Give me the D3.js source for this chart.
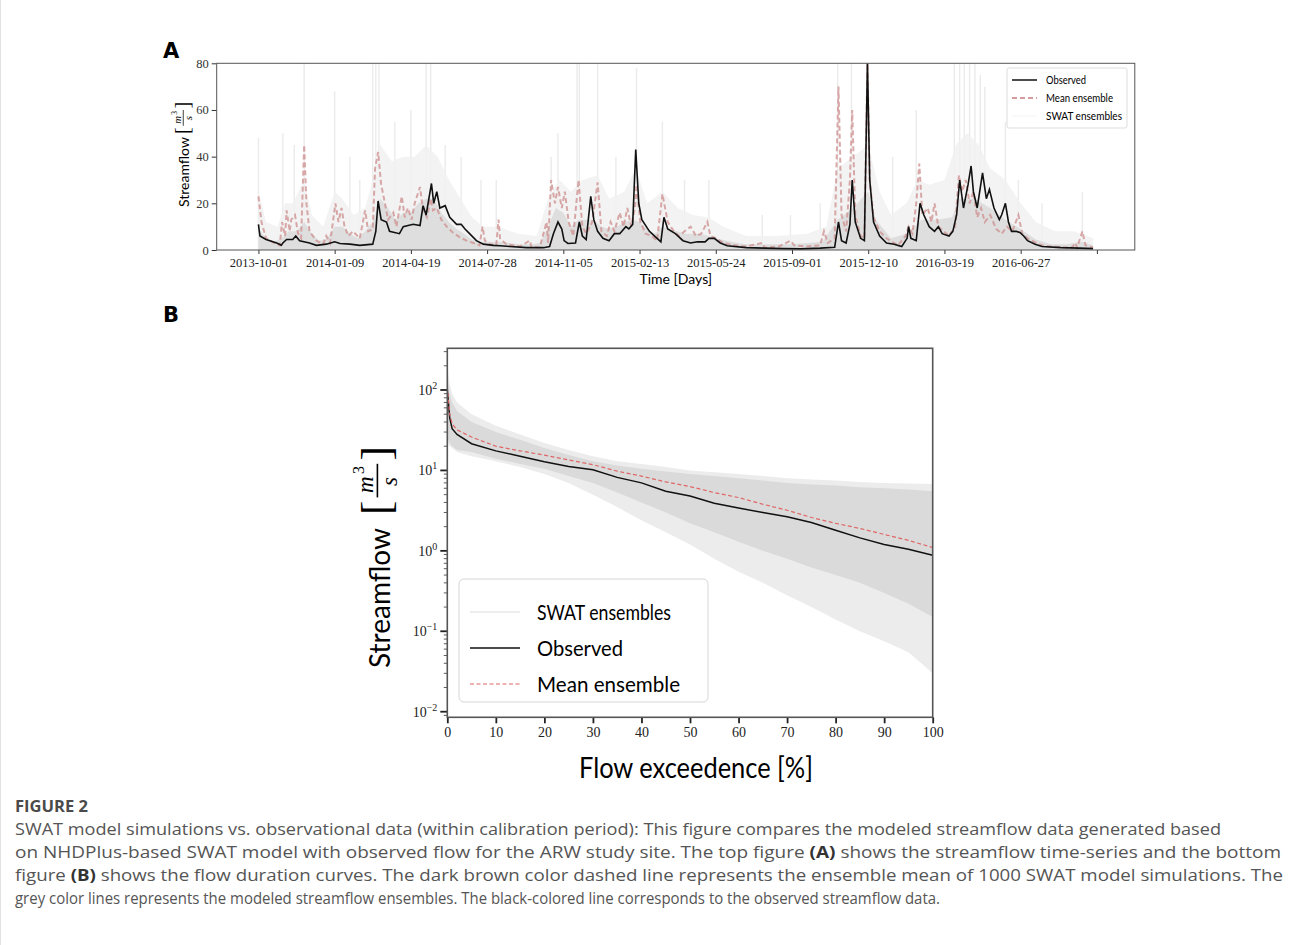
<!DOCTYPE html>
<html>
<head>
<meta charset="utf-8">
<script src="https://cdn.jsdelivr.net/npm/d3@7"></script>
<style>
  body { margin: 0; background: #fff; }
  svg { display: block; }
</style>
</head>
<body>
<div id="chart"></div>
<script>
// ---- datos panel A (serie temporal, día desde 2013-10-01, caudal m3/s) ----
const startDate = '2013-10-01';
const endDay = 1095;

const observed = [[0,11],[2,6],[10,4.5],[24,3],[30,2],[32,3],[37,4.5],[45,4.5],[49,6],[54,4],[67,3],[76,2],[89,2.5],[100,3.5],[107,2.8],[120,2.5],[133,2],[150,2.5],[154,8],[157,21],[161,13],[168,12],[172,8],[185,7],[190,10],[203,11],[212,10.5],[216,19],[220,15],[227,28.5],[230,20],[234,25],[238,18],[245,19],[251,14],[260,11],[266,11],[271,9],[277,7],[286,4],[295,2.5],[308,2],[317,1.8],[330,1.5],[352,1],[374,1],[382,1.5],[387,7],[393,12],[398,9],[401,4],[406,2.8],[416,3],[421,12],[425,6],[430,4.5],[436,23],[440,13],[445,8],[452,5],[460,4],[467,7],[474,7],[482,10],[486,9],[491,11],[495,43],[499,20],[503,13],[513,8],[523,5],[528,3.5],[532,14],[537,9],[547,7],[557,4],[567,3],[576,3.5],[586,3.5],[591,5],[598,5],[606,3],[615,1.8],[640,1],[664,0.8],[688,0.6],[712,0.5],[737,0.8],[756,1.2],[761,12],[765,4],[771,3],[776,11],[779,30],[783,12],[790,5],[795,4],[799,80],[802,30],[807,12],[815,6],[824,3],[834,2.5],[844,1.5],[851,5],[853,10],[856,5],[863,4],[868,20],[873,15],[880,10],[887,8],[892,10],[897,7],[906,6],[911,8],[916,15],[920,30],[925,18],[931,28],[935,36],[938,25],[943,18],[950,33],[955,22],[959,26],[965,18],[972,13],[975,15],[980,20],[984,12],[988,8],[994,8],[999,7.5],[1004,6],[1009,4],[1019,2.5],[1028,1.5],[1053,1],[1077,0.8],[1095,0.6]];

const meanEnsemble = [[0,23],[4,12],[10,5],[21,3],[28,2],[31,12],[35,6],[37,17],[41,8],[43,13],[48,15],[52,7],[56,5],[60,45],[63,20],[67,8],[76,4],[85,2.5],[89,6],[94,3],[101,20],[105,12],[109,18],[113,10],[118,6],[124,8],[133,5],[140,17],[144,8],[150,9],[153,35],[157,42],[161,28],[166,20],[170,13],[177,16],[181,10],[188,23],[192,14],[196,18],[201,13],[205,20],[212,27],[216,17],[221,14],[226,22],[229,17],[234,18],[240,13],[247,10],[255,7.5],[264,5.5],[273,4],[282,3],[290,2],[294,10],[297,4],[304,2.5],[312,2],[315,13],[317,5],[325,2.5],[343,1.5],[356,4],[358,1.5],[369,1],[378,12],[380,3],[384,30],[389,20],[393,27],[398,18],[402,25],[407,12],[413,6],[420,30],[425,10],[430,7],[438,12],[445,29],[450,8],[457,6],[462,12],[467,8],[474,16],[479,10],[484,18],[489,10],[494,18],[496,28],[501,12],[508,7],[516,6],[523,4],[530,24],[537,12],[545,8],[552,6],[559,8],[567,10],[574,6],[581,7],[589,12],[593,6],[601,5],[610,3],[625,2],[640,1.5],[661,3],[664,1],[683,1.5],[698,4],[703,2],[717,1.5],[737,2],[742,8],[747,3],[756,5],[761,70],[765,15],[771,8],[776,30],[779,60],[783,15],[790,6],[795,5],[799,80],[802,30],[807,14],[815,8],[824,5],[834,3],[839,2],[849,6],[853,10],[858,7],[863,20],[867,37],[871,15],[878,18],[883,12],[887,20],[892,10],[899,8],[906,6],[914,10],[919,32],[923,25],[928,30],[933,20],[938,25],[943,14],[948,18],[953,12],[960,15],[968,9],[975,7],[982,10],[989,8],[997,15],[1002,7],[1009,5],[1021,3],[1028,2],[1038,1.5],[1067,1],[1072,3],[1074,1],[1081,8],[1085,2],[1095,1]];

// ensembles SWAT: niebla media, núcleo denso y picos aislados
const ensembleHaze = [[0,25],[10,12],[25,10],[35,20],[45,20],[60,30],[70,15],[85,10],[100,25],[110,22],[125,15],[140,18],[150,30],[160,45],[175,38],[190,40],[205,40],[220,45],[235,40],[250,30],[265,22],[280,14],[295,10],[315,10],[340,7],[365,6],[380,22],[395,30],[410,25],[425,30],[445,32],[460,22],[480,25],[495,35],[510,20],[530,25],[550,18],[570,15],[590,14],[610,10],[640,6],[680,6],[720,7],[745,10],[760,35],[780,40],[800,45],[815,25],[830,15],[850,20],[865,30],[880,28],[900,30],[915,45],[930,50],[945,45],[960,35],[980,30],[1000,20],[1020,12],[1045,8],[1070,8],[1095,5]];

const ensembleCore = [[0,9],[10,5],[20,3.5],[30,5],[40,8],[50,8],[60,12],[70,7],[80,4],[90,5],[100,10],[110,10],[120,7],[130,5],[140,8],[150,12],[160,22],[170,18],[180,13],[190,16],[200,16],[210,20],[220,22],[230,22],[240,16],[250,12],[260,9],[270,7],[280,4.5],[290,3.5],[300,3.5],[320,3.5],[340,2.5],[360,2.5],[370,3],[380,10],[390,18],[400,16],[410,10],[420,13],[430,13],[440,13],[450,10],[460,9],[470,10],[480,12],[490,13],[500,12],[510,9],[520,7],[530,10],[540,9],[560,7],[580,7],[600,5],[620,3.5],[640,2.5],[660,2.5],[700,2.5],[740,3.5],[760,13],[780,18],[800,25],[810,13],[830,5],[850,7],[870,13],[890,13],[910,14],[920,22],[940,22],[960,18],[980,13],[1000,9],[1020,4.5],[1040,2.5],[1060,2.5],[1080,3.5],[1095,2]];

const ensembleSpikes = [[0,48],[32,50],[47,45],[60,80],[100,68],[120,40],[133,30],[150,80],[154,80],[158,80],[179,55],[200,60],[220,80],[226,80],[245,45],[266,40],[292,30],[312,30],[384,40],[393,50],[418,80],[421,80],[445,80],[469,40],[496,78],[530,55],[559,30],[591,30],[661,15],[698,15],[737,20],[760,80],[778,80],[799,80],[832,40],[863,60],[913,80],[920,80],[926,80],[933,80],[940,80],[947,75],[953,70],[980,55],[997,30],[1028,20],[1081,25]];

const timeTicks = ['2013-10-01','2014-01-09','2014-04-19','2014-07-28','2014-11-05','2015-02-13','2015-05-24','2015-09-01','2015-12-10','2016-03-19','2016-06-27','2016-10-05'];
const timeTickLabels = ['2013-10-01','2014-01-09','2014-04-19','2014-07-28','2014-11-05','2015-02-13','2015-05-24','2015-09-01','2015-12-10','2016-03-19','2016-06-27',''];
const flowTicksA = [0, 20, 40, 60, 80];

// ---- datos panel B (curvas de duración) ----
const exceedence = [0, 0.5, 1, 2, 5, 10, 15, 20, 25, 30, 35, 40, 45, 50, 55, 60, 65, 70, 75, 80, 85, 90, 95, 100];
const obsFdc =     [100, 45, 33, 28, 21.5, 17.5, 15, 12.8, 11.2, 10.2, 8.2, 7.0, 5.5, 4.8, 3.9, 3.4, 3.0, 2.65, 2.25, 1.8, 1.45, 1.2, 1.05, 0.88];
const meanFdc =    [110, 50, 38, 32, 26, 20, 17.5, 15.5, 13.5, 11.8, 9.8, 8.5, 7.2, 6.3, 5.3, 4.6, 3.8, 3.2, 2.6, 2.2, 1.9, 1.6, 1.35, 1.1];
const ensOuterHi = [200, 120, 90, 70, 50, 36, 28, 22, 18, 15, 13, 12, 11, 10, 9.5, 9, 8.5, 8, 7.7, 7.5, 7.2, 7, 6.9, 6.8];
const ensOuterLo = [22, 20, 19, 17, 15, 13, 11, 9, 7, 5, 3.5, 2.4, 1.7, 1.2, 0.8, 0.55, 0.4, 0.28, 0.2, 0.14, 0.1, 0.075, 0.055, 0.03];
const ensInnerHi = [150, 90, 70, 55, 40, 30, 24, 19, 15.5, 13, 11.5, 10.5, 9.7, 9, 8.5, 8, 7.5, 7, 6.7, 6.5, 6.2, 6, 5.8, 5.5];
const ensInnerLo = [25, 22, 20, 18, 17, 14, 12, 10.5, 8.5, 7, 5.3, 4, 3, 2.2, 1.7, 1.3, 1.0, 0.8, 0.62, 0.5, 0.4, 0.3, 0.22, 0.15];
const exceedTicks = [0, 10, 20, 30, 40, 50, 60, 70, 80, 90, 100];
const logTicks = [-2, -1, 0, 1, 2];

const captionLines = [
  ['SWAT model simulations vs. observational data (within calibration period): This figure compares the modeled streamflow data generated based'],
  ['on NHDPlus-based SWAT model with observed flow for the ARW study site. The top figure ', {b: '(A)'}, ' shows the streamflow time-series and the bottom'],
  ['figure ', {b: '(B)'}, ' shows the flow duration curves. The dark brown color dashed line represents the ensemble mean of 1000 SWAT model simulations. The'],
  ['grey color lines represents the modeled streamflow ensembles. The black-colored line corresponds to the observed streamflow data.']
];
const captionWidths = [1206, 1266, 1268, 925];

const W = 1293, H = 945;
const serif = '"Liberation Serif", "DejaVu Serif", serif';
const sans = 'Lato, "DejaVu Sans", sans-serif';

const svg = d3.select('#chart').append('svg')
  .attr('width', W).attr('height', H)
  .attr('viewBox', `0 0 ${W} ${H}`);

svg.append('rect').attr('width', W).attr('height', H).attr('fill', '#fff');
// borde suave de la página
svg.append('line').attr('x1', 0.5).attr('x2', 0.5).attr('y1', 0).attr('y2', H)
  .attr('stroke', '#e2e2e2');

// fracción [m^3 / s] para etiquetas del eje Y (dentro de un grupo ya rotado)
function unitFraction(g, size) {
  const f = g.append('g').attr('font-family', serif).attr('font-style', 'italic');
  f.append('text').attr('x', 0).attr('y', size * 0.34).attr('font-size', size * 1.35)
    .attr('font-style', 'normal').attr('font-weight', 300).text('[');
  f.append('text').attr('x', size * 0.95).attr('y', -size * 0.18).attr('text-anchor', 'middle')
    .attr('font-size', size * 0.72).text('m');
  f.append('text').attr('x', size * 1.28).attr('y', -size * 0.48)
    .attr('font-size', size * 0.5).attr('font-style', 'normal').text('3');
  f.append('line').attr('x1', size * 0.55).attr('x2', size * 1.6)
    .attr('y1', -size * 0.05).attr('y2', -size * 0.05)
    .attr('stroke', '#000').attr('stroke-width', Math.max(0.7, size * 0.05));
  f.append('text').attr('x', size * 1.05).attr('y', size * 0.55).attr('text-anchor', 'middle')
    .attr('font-size', size * 0.72).text('s');
  f.append('text').attr('x', size * 1.7).attr('y', size * 0.34).attr('font-size', size * 1.35)
    .attr('font-style', 'normal').attr('font-weight', 300).text(']');
  return f;
}

/* ================= PANEL A ================= */
const A = { left: 216.7, right: 1134.8, top: 63.3, bottom: 250 };
const parse = d3.utcParse('%Y-%m-%d');
const t0 = parse(startDate);
const day = d => d3.utcDay.offset(t0, d);

const xA = d3.scaleUtc()
  .domain([new Date(+t0 - 54.75 * 864e5), new Date(+day(endDay) + 54.75 * 864e5)])
  .range([A.left, A.right]);
const yA = d3.scaleLinear().domain([0, 80]).range([A.bottom, A.top]);

const gA = svg.append('g');
gA.append('text').attr('x', 163).attr('y', 58).attr('font-family', '"DejaVu Sans", sans-serif')
  .attr('font-weight', 700).attr('font-size', 21).text('A');

svg.append('clipPath').attr('id', 'clipA').append('rect')
  .attr('x', A.left).attr('y', A.top).attr('width', A.right - A.left).attr('height', A.bottom - A.top);
const plotA = gA.append('g').attr('clip-path', 'url(#clipA)');

const areaA = d3.area().x(d => xA(day(d[0]))).y0(yA(0)).y1(d => yA(d[1]));
const lineA = d3.line().x(d => xA(day(d[0]))).y(d => yA(d[1]));

plotA.selectAll('line.spike').data(ensembleSpikes).join('line').attr('class', 'spike')
  .attr('x1', d => xA(day(d[0]))).attr('x2', d => xA(day(d[0])))
  .attr('y1', yA(0)).attr('y2', d => yA(d[1]))
  .attr('stroke', '#ebebeb').attr('stroke-width', 1.4);
plotA.append('path').datum(ensembleHaze).attr('d', areaA).attr('fill', '#f1f1f1').attr('fill-opacity', 0.85);
plotA.append('path').datum(ensembleCore).attr('d', areaA).attr('fill', '#dedede');

plotA.append('path').datum(meanEnsemble).attr('d', lineA)
  .attr('fill', 'none').attr('stroke', '#cf9494').attr('stroke-opacity', 0.8)
  .attr('stroke-width', 2).attr('stroke-dasharray', '5,3');
plotA.append('path').datum(observed).attr('d', lineA)
  .attr('fill', 'none').attr('stroke', '#111').attr('stroke-width', 1.6);

// ejes A
const axA = d3.axisBottom(xA).tickValues(timeTicks.map(parse))
  .tickFormat((d, i) => timeTickLabels[i]).tickSize(4).tickPadding(4);
const gxA = gA.append('g').attr('transform', `translate(0,${A.bottom})`).call(axA);
gxA.select('.domain').remove();
gxA.selectAll('text').attr('font-family', serif).attr('font-size', 12.5).attr('fill', '#222');
gxA.selectAll('line').attr('stroke', '#333');

const ayA = d3.axisLeft(yA).tickValues(flowTicksA).tickSize(5).tickPadding(3);
const gyA = gA.append('g').attr('transform', `translate(${A.left},0)`).call(ayA);
gyA.select('.domain').remove();
gyA.selectAll('text').attr('font-family', serif).attr('font-size', 12.5).attr('fill', '#333');
gyA.selectAll('line').attr('stroke', '#333');

gA.append('rect').attr('x', A.left).attr('y', A.top)
  .attr('width', A.right - A.left).attr('height', A.bottom - A.top)
  .attr('fill', 'none').attr('stroke', '#555').attr('stroke-width', 1);

gA.append('text').attr('x', (A.left + A.right) / 2).attr('y', 284).attr('text-anchor', 'middle')
  .attr('font-family', sans).attr('font-size', 14).text('Time [Days]');

const ylabA = gA.append('g').attr('transform', 'translate(189,207) rotate(-90)');
ylabA.append('text').attr('x', 0).attr('y', 0).attr('font-family', sans)
  .attr('font-size', 14).text('Streamflow');
unitFraction(ylabA.append('g').attr('transform', 'translate(73,-5)'), 15);

// leyenda A
const legA = gA.append('g').attr('transform', 'translate(1007,68)');
legA.append('rect').attr('width', 120).attr('height', 60).attr('rx', 2)
  .attr('fill', '#fff').attr('stroke', '#ddd');
const legAItems = [
  { label: 'Observed', stroke: '#111', dash: null, w: 1.5, len: 40 },
  { label: 'Mean ensemble', stroke: '#d49c9c', dash: '5,3', w: 1.8, len: 67 },
  { label: 'SWAT ensembles', stroke: '#f4f4f4', dash: null, w: 1, len: 76 }
];
legAItems.forEach((d, i) => {
  const y = 12 + i * 18;
  legA.append('line').attr('x1', 5).attr('x2', 30).attr('y1', y).attr('y2', y)
    .attr('stroke', d.stroke).attr('stroke-width', d.w).attr('stroke-dasharray', d.dash);
  legA.append('text').attr('x', 39).attr('y', y + 4).attr('font-family', sans)
    .attr('font-size', 10.5).attr('textLength', d.len).attr('lengthAdjust', 'spacingAndGlyphs')
    .text(d.label);
});

/* ================= PANEL B ================= */
const B = { left: 447.3, right: 932.7, top: 348.3, bottom: 717.3 };
const xB = d3.scaleLinear().domain([0, 100]).range([B.left, B.right]);
const yB = d3.scaleLog().domain([0.00852, 330]).range([B.bottom, B.top]);

const gB = svg.append('g');
gB.append('text').attr('x', 163).attr('y', 322).attr('font-family', '"DejaVu Sans", sans-serif')
  .attr('font-weight', 700).attr('font-size', 21).text('B');

svg.append('clipPath').attr('id', 'clipB').append('rect')
  .attr('x', B.left).attr('y', B.top).attr('width', B.right - B.left).attr('height', B.bottom - B.top);
const plotB = gB.append('g').attr('clip-path', 'url(#clipB)');

const bandB = (hi, lo) => d3.area()
  .x((d, i) => xB(exceedence[i])).y0((d, i) => yB(lo[i])).y1((d, i) => yB(hi[i]))(exceedence);
plotB.append('path').attr('d', bandB(ensOuterHi, ensOuterLo)).attr('fill', '#ececec');
plotB.append('path').attr('d', bandB(ensInnerHi, ensInnerLo)).attr('fill', '#dadada');

const lineB = vals => d3.line().x((d, i) => xB(exceedence[i])).y((d, i) => yB(vals[i]))(exceedence);
plotB.append('path').attr('d', lineB(obsFdc)).attr('fill', 'none')
  .attr('stroke', '#111').attr('stroke-width', 1.5);
plotB.append('path').attr('d', lineB(meanFdc)).attr('fill', 'none')
  .attr('stroke', '#e06666').attr('stroke-width', 1.2).attr('stroke-dasharray', '4,2.5');

// ejes B
const axB = d3.axisBottom(xB).tickValues(exceedTicks).tickSize(6).tickPadding(4);
const gxB = gB.append('g').attr('transform', `translate(0,${B.bottom})`).call(axB);
gxB.select('.domain').remove();
gxB.selectAll('line').attr('stroke', '#222').attr('stroke-width', 1.8);
gxB.selectAll('text').attr('font-family', serif).attr('font-size', 14).attr('fill', '#222');

const gyB = gB.append('g').attr('transform', `translate(${B.left},0)`);
logTicks.forEach(k => {
  const y = yB(Math.pow(10, k));
  gyB.append('line').attr('x1', -7).attr('x2', 0).attr('y1', y).attr('y2', y)
    .attr('stroke', '#222').attr('stroke-width', 1.8);
  const t = gyB.append('text').attr('x', -10).attr('y', y + 5).attr('text-anchor', 'end')
    .attr('font-family', serif).attr('font-size', 14).attr('fill', '#222');
  t.append('tspan').text('10');
  t.append('tspan').attr('dy', -6).attr('font-size', 10).text(k < 0 ? '\u2212' + (-k) : k);
});
// marcas menores log
const minor = [];
for (let k = -3; k <= 2; k++) for (let m = 2; m <= 9; m++) minor.push(m * Math.pow(10, k));
minor.filter(v => v >= 0.00852 && v <= 330).forEach(v => {
  gyB.append('line').attr('x1', -3.5).attr('x2', 0).attr('y1', yB(v)).attr('y2', yB(v))
    .attr('stroke', '#333').attr('stroke-width', 0.8);
});

gB.append('rect').attr('x', B.left).attr('y', B.top)
  .attr('width', B.right - B.left).attr('height', B.bottom - B.top)
  .attr('fill', 'none').attr('stroke', '#555').attr('stroke-width', 1.6);

gB.append('text').attr('x', 696).attr('y', 778).attr('text-anchor', 'middle')
  .attr('font-family', sans).attr('font-size', 28)
  .attr('textLength', 234).attr('lengthAdjust', 'spacingAndGlyphs').text('Flow exceedence [%]');

const ylabB = gB.append('g').attr('transform', 'translate(390,668) rotate(-90)');
ylabB.append('text').attr('x', 0).attr('y', 0).attr('font-family', sans)
  .attr('font-size', 28).text('Streamflow');
unitFraction(ylabB.append('g').attr('transform', 'translate(153,-11)'), 32);

// leyenda B
const legB = gB.append('g').attr('transform', 'translate(459,579)');
legB.append('rect').attr('width', 249).attr('height', 123).attr('rx', 5)
  .attr('fill', '#fff').attr('fill-opacity', 0.85).attr('stroke', '#d6d6d6');
const legBItems = [
  { label: 'SWAT ensembles', stroke: '#eeeeee', dash: null, w: 2, len: 134 },
  { label: 'Observed', stroke: '#111', dash: null, w: 1.5, len: 86 },
  { label: 'Mean ensemble', stroke: '#e06666', dash: '4,2.5', w: 1.2, len: 143 }
];
legBItems.forEach((d, i) => {
  const y = 33 + i * 36;
  legB.append('line').attr('x1', 11).attr('x2', 61).attr('y1', y).attr('y2', y)
    .attr('stroke', d.stroke).attr('stroke-width', d.w).attr('stroke-dasharray', d.dash);
  legB.append('text').attr('x', 78).attr('y', y + 8).attr('font-family', sans)
    .attr('font-size', 21).attr('textLength', d.len).attr('lengthAdjust', 'spacingAndGlyphs')
    .text(d.label);
});

/* ================= CAPTION ================= */
const cap = svg.append('g').attr('font-family', '"Liberation Sans Narrow", "Open Sans", sans-serif')
  .attr('fill', '#555');
cap.append('text').attr('x', 15).attr('y', 812).attr('font-size', 16).attr('font-weight', 700)
  .attr('fill', '#4a4a4a').attr('textLength', 73).attr('lengthAdjust', 'spacingAndGlyphs')
  .text('FIGURE 2');
captionLines.forEach((parts, i) => {
  const t = cap.append('text').attr('x', 15).attr('y', 835 + i * 23).attr('font-size', 15.5)
    .attr('textLength', captionWidths[i]).attr('lengthAdjust', 'spacingAndGlyphs');
  parts.forEach(p => {
    if (typeof p === 'string') t.append('tspan').text(p);
    else t.append('tspan').attr('font-weight', 700).attr('fill', '#333').text(p.b);
  });
});
</script>
</body>
</html>
